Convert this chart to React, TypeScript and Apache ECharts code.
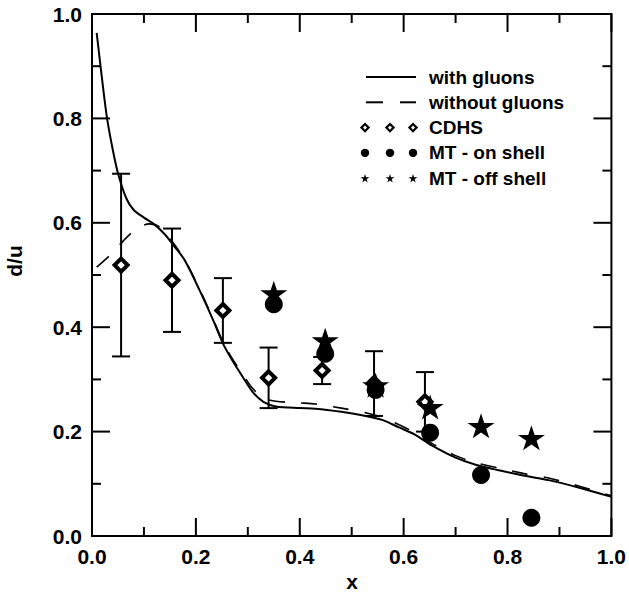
import React, { useEffect, useRef } from "react";
import * as echarts from "echarts";

// Theory curves: d/u ratio versus x
const withGluonsX = [0.009, 0.02, 0.029, 0.04, 0.05, 0.066, 0.08, 0.1, 0.12, 0.14, 0.16, 0.178, 0.207, 0.233, 0.252, 0.268, 0.29, 0.31, 0.33, 0.354, 0.4, 0.43, 0.48, 0.527, 0.56, 0.591, 0.62, 0.655, 0.7, 0.74, 0.783, 0.83, 0.879, 0.94, 1.0];
const withGluonsY = [0.964, 0.87, 0.8, 0.74, 0.695, 0.647, 0.625, 0.61, 0.597, 0.578, 0.553, 0.529, 0.471, 0.414, 0.369, 0.34, 0.305, 0.275, 0.257, 0.248, 0.245, 0.244, 0.238, 0.23, 0.222, 0.208, 0.195, 0.173, 0.15, 0.136, 0.126, 0.116, 0.107, 0.092, 0.075];

const withoutGluonsX = [0.009, 0.035, 0.06, 0.085, 0.11, 0.13, 0.15, 0.178, 0.207, 0.233, 0.252, 0.268, 0.29, 0.31, 0.33, 0.354, 0.4, 0.43, 0.48, 0.527, 0.56, 0.591, 0.62, 0.655, 0.7, 0.74, 0.783, 0.83, 0.879, 0.94, 1.0];
const withoutGluonsY = [0.515, 0.538, 0.565, 0.588, 0.598, 0.592, 0.57, 0.53, 0.473, 0.416, 0.372, 0.343, 0.31, 0.282, 0.265, 0.258, 0.255, 0.253, 0.245, 0.236, 0.227, 0.213, 0.199, 0.177, 0.154, 0.14, 0.13, 0.12, 0.111, 0.095, 0.077];

// CDHS data with errors
const cdhsX = [0.056, 0.154, 0.252, 0.34, 0.443, 0.543, 0.641];
const cdhsY = [0.519, 0.49, 0.432, 0.303, 0.317, 0.292, 0.257];
const cdhsErr = [0.175, 0.099, 0.062, 0.058, 0.026, 0.062, 0.057];

// Extracted ratios, on-shell and off-shell
const mtX = [0.35, 0.449, 0.546, 0.651, 0.749, 0.846];
const mtOnShellY = [0.444, 0.349, 0.28, 0.198, 0.117, 0.035];
const mtOffShellY = [0.465, 0.375, 0.289, 0.247, 0.211, 0.188];

const legendNames = ["with gluons", "without gluons", "CDHS", "MT - on shell", "MT - off shell"];
const tickValues = [0, 0.2, 0.4, 0.6, 0.8, 1.0];
const minorTickValues = [0.1, 0.3, 0.5, 0.7, 0.9];
const xTitle = "x";
const yTitle = "d/u";

const FONT = "'Liberation Sans', Arial, Helvetica, sans-serif";
const STAR =
  "path://M50,0L61.23,34.55L97.55,34.55L68.17,55.9L79.39,90.45L50,69.1L20.61,90.45L31.83,55.9L2.45,34.55L38.77,34.55Z";

function starPoints(cx: number, cy: number, r: number): number[][] {
  const pts: number[][] = [];
  for (let i = 0; i < 10; i++) {
    const rad = i % 2 === 0 ? r : r * 0.382;
    const a = -Math.PI / 2 + (i * Math.PI) / 5;
    pts.push([cx + rad * Math.cos(a), cy + rad * Math.sin(a)]);
  }
  return pts;
}

// Legend block and axis titles
function overlayGraphics() {
  const els: any[] = [];
  const x0 = 366;
  const x1 = 416;
  const marks = [365, 390, 413];
  legendNames.forEach((name, i) => {
    const y = 77 + i * 25.3;
    if (i === 0) {
      els.push({ type: "line", shape: { x1: x0, y1: y, x2: x1, y2: y }, style: { stroke: "#000", lineWidth: 2 } });
    } else if (i === 1) {
      els.push({ type: "line", shape: { x1: x0, y1: y, x2: 383, y2: y }, style: { stroke: "#000", lineWidth: 2 } });
      els.push({ type: "line", shape: { x1: 400, y1: y, x2: x1, y2: y }, style: { stroke: "#000", lineWidth: 2 } });
    } else {
      marks.forEach((cx) => {
        if (i === 2) {
          els.push({
            type: "polygon",
            shape: { points: [[cx, y - 3.6], [cx + 3.6, y], [cx, y + 3.6], [cx - 3.6, y]] },
            style: { fill: "#fff", stroke: "#000", lineWidth: 2.2 },
          });
        } else if (i === 3) {
          els.push({ type: "circle", shape: { cx, cy: y, r: 4.2 }, style: { fill: "#000" } });
        } else {
          els.push({ type: "polygon", shape: { points: starPoints(cx, y + 0.5, 4.6) }, style: { fill: "#000" } });
        }
      });
    }
    els.push({
      type: "text",
      x: 429,
      y,
      style: { text: name, fill: "#000", font: `bold 19px ${FONT}`, verticalAlign: "middle", align: "left" },
    });
  });
  els.push({
    type: "text",
    x: 14,
    y: 261,
    rotation: Math.PI / 2,
    style: { text: yTitle, fill: "#000", font: `bold 21px ${FONT}`, verticalAlign: "middle", align: "center" },
  });
  els.push({
    type: "text",
    x: 352,
    y: 581,
    style: { text: xTitle, fill: "#000", font: `bold 21px ${FONT}`, verticalAlign: "middle", align: "center" },
  });
  return els;
}

function axisCommon(showLabel: boolean) {
  return {
    type: "value",
    min: 0,
    max: 1,
    interval: 0.2,
    axisLine: { show: false, onZero: false },
    axisTick: { show: false },
    minorTick: { show: false },
    splitLine: { show: false },
    minorSplitLine: { show: false },
    axisLabel: {
      show: showLabel,
      color: "#000",
      fontSize: 21,
      fontWeight: "bold",
      fontFamily: FONT,
      margin: 10,
      formatter: (v: number) => (tickValues.some((t) => Math.abs(t - v) < 1e-9) ? v.toFixed(1) : ""),
    },
  };
}

// Plot frame with inward ticks on all four sides, placed through the axis scales
function renderFrame(params: any, api: any) {
  const st = { stroke: "#000", lineWidth: 2, fill: null };
  const bl = api.coord([0, 0]);
  const tr = api.coord([1, 1]);
  const children: any[] = [
    { type: "rect", shape: { x: bl[0], y: tr[1], width: tr[0] - bl[0], height: bl[1] - tr[1] }, style: { ...st, fill: "none" } },
  ];
  const addTicks = (vals: number[], len: number) => {
    vals.forEach((v) => {
      const px = api.coord([v, 0])[0];
      const py = api.coord([0, v])[1];
      children.push({ type: "line", shape: { x1: px, y1: bl[1], x2: px, y2: bl[1] - len }, style: st });
      children.push({ type: "line", shape: { x1: px, y1: tr[1], x2: px, y2: tr[1] + len }, style: st });
      children.push({ type: "line", shape: { x1: bl[0], y1: py, x2: bl[0] + len, y2: py }, style: st });
      children.push({ type: "line", shape: { x1: tr[0], y1: py, x2: tr[0] - len, y2: py }, style: st });
    });
  };
  addTicks(tickValues, 18);
  addTicks(minorTickValues, 9);
  return { type: "group", children };
}

export default function App() {
  const ref = useRef<HTMLDivElement>(null);

  useEffect(() => {
    if (!ref.current) return;
    const chart = echarts.init(ref.current, undefined, { renderer: "svg" });

    const cdhsBars = cdhsX.map((x, i) => [x, cdhsY[i] - cdhsErr[i], cdhsY[i] + cdhsErr[i]]);

    chart.setOption({
      animation: false,
      backgroundColor: "#fff",
      grid: { left: 92, right: 16, top: 14, bottom: 62 },
      xAxis: [
        { ...axisCommon(true), position: "bottom" },
        { ...axisCommon(false), position: "top" },
      ],
      yAxis: [
        { ...axisCommon(true), position: "left" },
        { ...axisCommon(false), position: "right" },
      ],
      graphic: overlayGraphics(),
      series: [
        {
          type: "custom",
          data: [[0, 0]],
          encode: { x: 0, y: 1 },
          clip: false,
          silent: true,
          renderItem: renderFrame,
        },
        {
          type: "line",
          data: withGluonsX.map((x, i) => [x, withGluonsY[i]]),
          smooth: 0.3,
          showSymbol: false,
          symbol: "none",
          lineStyle: { color: "#000", width: 2 },
        },
        {
          type: "line",
          data: withoutGluonsX.map((x, i) => [x, withoutGluonsY[i]]),
          smooth: 0.3,
          showSymbol: false,
          symbol: "none",
          lineStyle: { color: "#000", width: 1.6, type: [16, 16] },
        },
        {
          type: "scatter",
          data: cdhsX.map((x, i) => [x, cdhsY[i]]),
          symbol: "diamond",
          symbolSize: 13,
          itemStyle: { color: "#fff", borderColor: "#000", borderWidth: 4, opacity: 1 },
        },
        {
          type: "custom",
          data: cdhsBars,
          encode: { x: 0, y: [1, 2] },
          renderItem: (params: any, api: any) => {
            const x = api.value(0);
            const lo = api.coord([x, api.value(1)]);
            const hi = api.coord([x, api.value(2)]);
            const w = 9;
            const st = { stroke: "#000", lineWidth: 2 };
            return {
              type: "group",
              children: [
                { type: "line", shape: { x1: lo[0], y1: lo[1], x2: hi[0], y2: hi[1] }, style: st },
                { type: "line", shape: { x1: lo[0] - w, y1: lo[1], x2: lo[0] + w, y2: lo[1] }, style: st },
                { type: "line", shape: { x1: hi[0] - w, y1: hi[1], x2: hi[0] + w, y2: hi[1] }, style: st },
              ],
            };
          },
        },
        {
          type: "scatter",
          data: mtX.map((x, i) => [x, mtOnShellY[i]]),
          symbol: "circle",
          symbolSize: 18,
          itemStyle: { color: "#000", opacity: 1 },
        },
        {
          type: "scatter",
          data: mtX.map((x, i) => [x, mtOffShellY[i]]),
          symbol: STAR,
          symbolSize: [27, 25],
          itemStyle: { color: "#000", opacity: 1 },
        },
      ],
    });

    return () => chart.dispose();
  }, []);

  return (
    <div
      ref={ref}
      style={{ position: "fixed", left: 0, top: 0, width: 629, height: 598, background: "#fff" }}
    />
  );
}
